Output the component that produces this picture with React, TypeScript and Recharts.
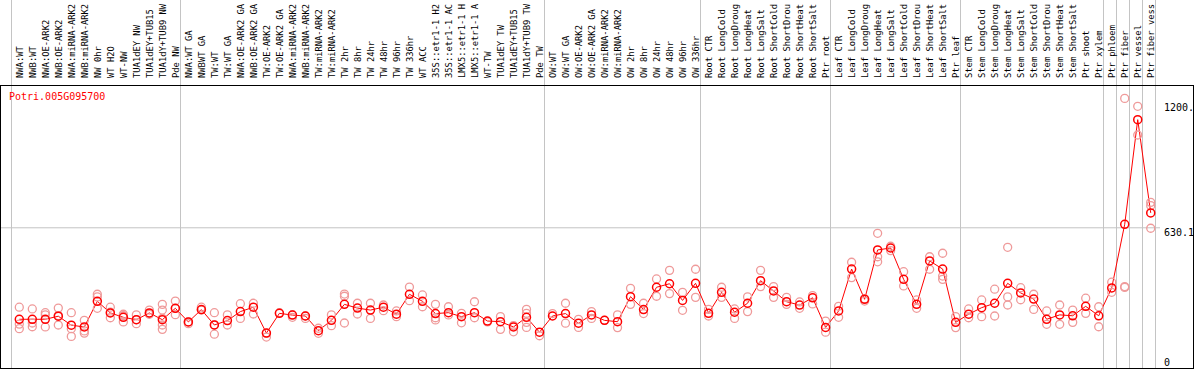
import { LineChart, Line, XAxis, YAxis, ReferenceLine } from "recharts";

const GRID = "#c4c4c4";
const MEAN_RED = "#ff0000";
const REP_PINK = "#ef9a9a";
const MONO = "'DejaVu Sans Mono', monospace";

const CATEGORIES = [
  "NWA:WT", "NWB:WT", "NWA:OE-ARK2", "NWB:OE-ARK2", "NWA:miRNA-ARK2", "NWB:miRNA-ARK2",
  "NW 0hr", "WT H2O", "WT-NW", "TUA1dEY NW", "TUA1dEY+TUB15", "TUA1dY+TUB9 NW", "Pde NW",
  "NWA:WT GA", "NWBWT GA", "TW:WT", "TW:WT GA", "NWA:OE-ARK2 GA", "NWB:OE-ARK2 GA",
  "TW:OE-ARK2", "TW:OE-ARK2 GA", "NWA:miRNA-ARK2", "NWB:miRNA-ARK2", "TW:miRNA-ARK2",
  "TW:miRNA-ARK2", "TW 2hr", "TW 8hr", "TW 24hr", "TW 48hr", "TW 96hr", "TW 336hr", "WT ACC",
  "35S::etr1-1 H2", "35S::etr1-1 AC", "LMX5::etr1-1 H", "LMX5::etr1-1 A", "WT-TW",
  "TUA1dEY TW", "TUA1dEY+TUB15", "TUA1dY+TUB9 TW", "Pde TW",
  "OW:WT", "OW:WT GA", "OW:OE-ARK2", "OW:OE-ARK2 GA", "OW:miRNA-ARK2", "OW:miRNA-ARK2",
  "OW 2hr", "OW 8hr", "OW 24hr", "OW 48hr", "OW 96hr", "OW 336hr",
  "Root CTR", "Root LongCold", "Root LongDroug", "Root LongHeat", "Root LongSalt",
  "Root ShortCold", "Root ShortDrou", "Root ShortHeat", "Root ShortSalt", "Ptr root",
  "Leaf CTR", "Leaf LongCold", "Leaf LongDroug", "Leaf LongHeat", "Leaf LongSalt",
  "Leaf ShortCold", "Leaf ShortDrou", "Leaf ShortHeat", "Leaf ShortSalt", "Ptr leaf",
  "Stem CTR", "Stem LongCold", "Stem LongDroug", "Stem LongHeat", "Stem LongSalt",
  "Stem ShortCold", "Stem ShortDrou", "Stem ShortHeat", "Stem ShortSalt", "Ptr shoot",
  "Ptr xylem", "Ptr phloem", "Ptr fiber", "Ptr vessel", "Ptr fiber vess",
];

// mean expression per sample
const MEANS = [
  213, 213, 213, 227, 186, 178, 295, 242, 222, 211, 242, 211, 263,
  201, 257, 187, 207, 248, 268, 150, 240, 232, 228, 161, 208, 281, 264, 255, 268, 236,
  327, 295, 239, 243, 225, 243, 205, 202, 178, 222, 154,
  228, 239, 195, 233, 208, 202, 316, 257, 359, 375, 299, 377,
  240, 336, 245, 286, 389, 342, 293, 278, 311, 176,
  251, 442, 304, 529, 538, 395, 281, 479, 442, 199,
  236, 266, 286, 377, 333, 305, 213, 233, 229, 272, 229,
  356, 646, 1123, 698,
];

// individual replicates per sample
const REPLICATES: number[][] = [
  [268, 191, 170], [260, 196, 179], [243, 233, 178], [264, 187, 230], [243, 170, 135],
  [208, 160, 150], [327, 315, 263], [268, 245, 220], [229, 201, 236], [233, 211, 193],
  [255, 236, 240], [281, 255, 217, 187, 167], [296, 234, 263],
  [201, 193], [268, 255], [243, 187, 145], [233, 187], [284, 217], [286, 237], [132, 150],
  [243], [234, 222], [228, 217], [172, 149], [233, 184], [328, 318, 196], [286, 237],
  [286, 217], [278, 252], [251, 225], [360, 298], [324, 270], [281, 220, 210], [270, 233],
  [240, 197], [293, 220], [201], [225, 167], [184, 156], [258, 240, 199, 176], [138],
  [239], [286, 195], [213, 176], [248, 217], [208], [233, 175], [354, 281], [286, 239],
  [397, 318], [436, 330], [336, 254], [441, 313],
  [258, 228], [359, 313], [260, 217], [315, 248], [436, 362], [362, 313], [313, 281],
  [292, 263], [321, 283], [205, 154],
  [272, 222], [473, 403], [307, 296], [605, 498, 475], [546, 526], [430, 365], [301, 263],
  [498, 441], [514, 410, 395], [225, 175],
  [260, 220], [301, 225], [350, 228], [541, 315, 278], [357, 302], [327, 258], [251, 190],
  [278, 190], [255, 199], [309, 240], [270, 179],
  [382, 336], [1220, 362, 358], [1184, 1053], [746, 731, 628],
];

// first sample index of each tissue group (plus the closing edge)
const GROUP_STARTS = [0, 13, 41, 53, 63, 73, 84, 85, 86, 87, 88];
const Y_TICKS = [0, 630.1, 1200];
const SERIES_NAME = "Potri.005G095700";

const MAX_REPS = 5;
const rows = MEANS.map((mean, i) => {
  const row: Record<string, number | null> = { x: i, mean };
  for (let k = 0; k < MAX_REPS; k++) row[`r${k}`] = REPLICATES[i][k] ?? null;
  return row;
});
const xTicks = CATEGORIES.map((_, i) => i);

const CategoryTick = (props: any) => {
  const { x, payload } = props;
  return (
    <text
      transform={`translate(${x + 3.5},78) rotate(-90)`}
      fontSize={8.8}
      fontFamily={MONO}
      fill="#000"
    >
      {CATEGORIES[payload.value]}
    </text>
  );
};

const ValueTick = (props: any) => {
  const { y, payload } = props;
  const v = payload.value as number;
  const label = v === 1200 ? "1200." : String(v);
  return (
    <text x={1164} y={v === 0 ? 366 : y + 7.8} fontSize={10} fontFamily={MONO} fill="#000">
      {label}
    </text>
  );
};

const GroupLine = (p: any) => {
  const x = Math.round(p.x1) + 0.5;
  return <line x1={x} x2={x} y1={0} y2={368} stroke={GRID} strokeWidth={1} />;
};

const meanDot = (p: any) => {
  if (p.cy == null) return <g key={p.key} />;
  return <circle key={p.key} cx={p.cx} cy={p.cy} r={4} fill="none" stroke={MEAN_RED} strokeWidth={1.5} />;
};

const repDot = (p: any) => {
  if (p.cy == null || p.value == null) return <g key={p.key} />;
  return <circle key={p.key} cx={p.cx} cy={p.cy} r={4} fill="none" stroke={REP_PINK} strokeWidth={1.3} />;
};

export default function App() {
  return (
    <div style={{ position: "absolute", left: 0, top: 0, width: 1194, height: 370, background: "#fff" }}>
      <LineChart width={1194} height={370} data={rows} margin={{ top: 0, right: 0, bottom: 4, left: 1 }}>
        <XAxis
          dataKey="x"
          type="number"
          orientation="top"
          height={85}
          domain={[-1.407, 87.713]}
          allowDataOverflow
          ticks={xTicks}
          interval={0}
          tick={<CategoryTick />}
          tickLine={false}
          axisLine={false}
        />
        <YAxis
          orientation="right"
          width={34}
          domain={[0, 1281]}
          allowDataOverflow
          ticks={Y_TICKS}
          interval={0}
          tick={<ValueTick />}
          tickLine={false}
          axisLine={false}
        />
        <ReferenceLine y={630.1} stroke={GRID} strokeWidth={1} />
        {GROUP_STARTS.map((g) => (
          <ReferenceLine key={g} x={g - 0.65} shape={<GroupLine />} />
        ))}
        {Array.from({ length: MAX_REPS }, (_, k) => (
          <Line
            key={k}
            dataKey={`r${k}`}
            stroke="none"
            dot={repDot}
            activeDot={false}
            legendType="none"
            isAnimationActive={false}
          />
        ))}
        <Line
          dataKey="mean"
          stroke={MEAN_RED}
          strokeWidth={1}
          dot={meanDot}
          activeDot={false}
          isAnimationActive={false}
        />
      </LineChart>
      <div
        style={{
          position: "absolute",
          left: 0,
          top: 85,
          width: 1194,
          height: 284,
          border: "1px solid #000",
          boxSizing: "border-box",
          pointerEvents: "none",
        }}
      />
      <div
        style={{
          position: "absolute",
          left: 9,
          top: 91,
          fontFamily: MONO,
          fontSize: 10,
          color: MEAN_RED,
          lineHeight: "12px",
        }}
      >
        {SERIES_NAME}
      </div>
    </div>
  );
}
